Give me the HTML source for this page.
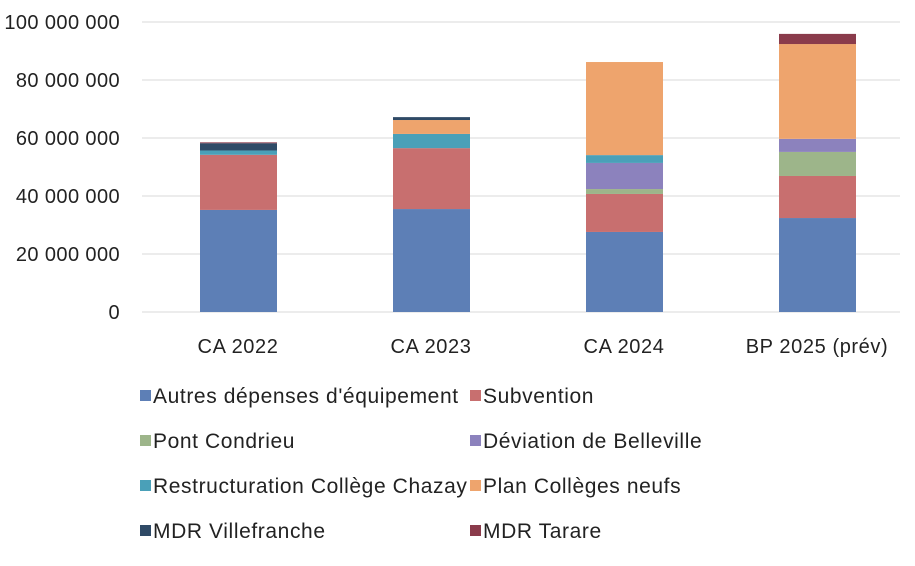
<!DOCTYPE html>
<html><head><meta charset="utf-8"><style>
body{margin:0;background:#fff;font-family:"Liberation Sans",sans-serif;}
svg text{font-family:"Liberation Sans",sans-serif;fill:#222;}
</style></head><body>
<svg id="c" width="915" height="561"></svg>
<script>
const categories=["CA 2022","CA 2023","CA 2024","BP 2025 (prév)"];
const seriesNames=["Autres dépenses d'équipement","Subvention","Pont Condrieu","Déviation de Belleville","Restructuration Collège Chazay","Plan Collèges neufs","MDR Villefranche","MDR Tarare"];
const autres=[35.2,35.5,27.6,32.4];
const subvention=[19,21,13.1,14.5];
const pont=[0,0,1.7,8.3];
const deviation=[0,0,9,4.5];
const restructuration=[1.5,4.9,2.7,0];
const planColleges=[0,4.8,32.1,32.7];
const villefranche=[2.5,1,0,0];
const tarare=[0.3,0,0,3.5];
const yTicks=["0","20 000 000","40 000 000","60 000 000","80 000 000","100 000 000"];
const colors=["#5d7fb6","#c86f6f","#9db58a","#8c82bd","#4aa0b8","#eea46d","#2f4a66","#8a3b4b"];
const series=[autres,subvention,pont,deviation,restructuration,planColleges,villefranche,tarare];
const NS="http://www.w3.org/2000/svg";
const svg=document.getElementById('c');
const y0=312,pxPer=2.9;
const y=v=>y0-v*pxPer;
const x=i=>238+i*193;
function mk(t,a){const e=document.createElementNS(NS,t);for(const k in a)e.setAttribute(k,a[k]);svg.appendChild(e);return e;}
yTicks.forEach((t,i)=>{
 const g=mk('line',{x1:142,x2:900,y1:y(i*20),y2:y(i*20),stroke:'#d9d9d9','stroke-width':1});
 
 
 const tx=mk('text',{x:120,y:y(i*20)+7,'text-anchor':'end','font-size':20,'letter-spacing':0.4});
 tx.textContent=t;
 
 
});
categories.forEach((c,i)=>{
 let acc=0;
 series.forEach((s,j)=>{
  const v=s[i]; if(!v)return;
  const r=mk('rect',{x:x(i)-38,width:77,y:y(acc+v),height:v*pxPer,fill:colors[j]});
  
  
  acc+=v;
 });
 const t=mk('text',{x:x(i),y:353,'text-anchor':'middle','font-size':20,'letter-spacing':0.6});
 t.textContent=c;
 
 
});
seriesNames.forEach((n,j)=>{
 const lx=j%2?470:140, ly=400+Math.floor(j/2)*45;
 const r=mk('rect',{x:lx,y:ly-10,width:11,height:11,fill:colors[j]});
 
 
 const t=mk('text',{x:lx+13,y:ly+3,'font-size':21,'letter-spacing':0.6});
 t.textContent=n;
 
 
});
</script>
</body></html>
